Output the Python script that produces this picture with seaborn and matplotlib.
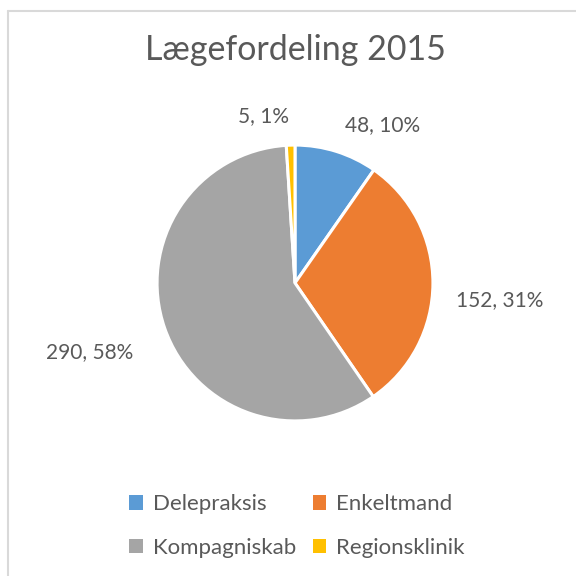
import matplotlib
matplotlib.use("Agg")
import matplotlib.pyplot as plt
import seaborn as sns
import numpy as np
from matplotlib.lines import Line2D
from matplotlib.patches import Patch

categories = ["Delepraksis", "Enkeltmand", "Kompagniskab", "Regionsklinik"]
values = [48, 152, 290, 5]
pct_labels = ["10%", "31%", "58%", "1%"]
title = "Lægefordeling 2015"

sns.set_theme(style="white")
plt.rcParams['font.family'] = ['Lato', 'DejaVu Sans']
colors = sns.color_palette(["#5B9BD5", "#ED7D31", "#A5A5A5", "#FFC000"])
txt = "#595959"

fig = plt.figure(figsize=(5.76, 5.76), dpi=100)
W = 400 / 576
ax = fig.add_axes([(295 - 200) / 576, (576 - 283 - 200) / 576, W, W])
wedges, _ = ax.pie(values, colors=colors, startangle=90, counterclock=False,
                   wedgeprops=dict(edgecolor="white", linewidth=2.2))
ax.set_xlim(-1.45, 1.45)
ax.set_ylim(-1.45, 1.45)
ax.set_aspect('equal')
ax.axis('off')

# label placement (distance in radii, angle offset in degrees)
place = [(1.31, -11.5), (1.49, -4.5), (1.57, -0.5), (1.23, 9.0)]
for w, v, p, (d, off) in zip(wedges, values, pct_labels, place):
    ang = np.deg2rad((w.theta1 + w.theta2) / 2 + off)
    ax.text(d * np.cos(ang), d * np.sin(ang), f"{v}, {p}", ha="center", va="center",
            fontsize=15, color=txt, clip_on=False)

fig.text(295 / 576, 1 - 50 / 576, title, ha="center", va="center", fontsize=24.5, color=txt)

handles = [Patch(facecolor=c, edgecolor="none") for c in colors]
order = [0, 2, 1, 3]  # row-wise fill like the reference
leg = fig.legend([handles[i] for i in order], [categories[i] for i in order], ncol=2,
                 loc="center", bbox_to_anchor=(297 / 576, 1 - 526 / 576),
                 frameon=False, fontsize=16, handlelength=0.6, handleheight=0.6,
                 handletextpad=0.45, columnspacing=0.75, labelspacing=1.05)
for t in leg.get_texts():
    t.set_color(txt)

# chart area border (top and left visible)
fig.add_artist(Line2D([8 / 576, 1], [1 - 11 / 576, 1 - 11 / 576], color="#D9D9D9", lw=1.5, transform=fig.transFigure))
fig.add_artist(Line2D([8 / 576, 8 / 576], [0, 1 - 11 / 576], color="#D9D9D9", lw=1.5, transform=fig.transFigure))

fig.savefig("out.png", dpi=100, facecolor="white")
